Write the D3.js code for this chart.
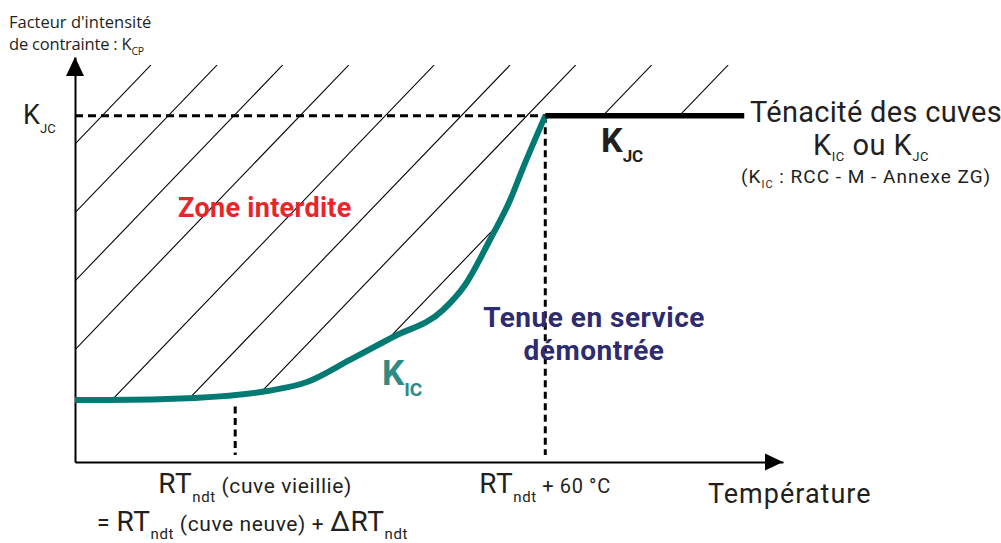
<!DOCTYPE html>
<html>
<head>
<meta charset="utf-8">
<script src="https://cdn.jsdelivr.net/npm/d3@7"></script>
<style>
body { margin: 0; background: #fff; }
text { font-family: Roboto, "Open Sans", sans-serif; }
</style>
</head>
<body>
<svg id="chart" width="1001" height="543"></svg>
<script>
// temperature in °C relative to RTndt of the aged vessel, K relative to K_JC = 100
var tempDomain = [-31, 106];
var kDomain = [0, 117];
var kJC = 100;
var rtAged = 0;
var rtPlus60 = 60;
var kjcEnd = 98.5;

// K_IC curve
var kicT = [-31, -24.4, -7.8, 6.2, 13.9, 22.2, 30.5, 40.2, 44.5, 49.3, 53.2, 55.7, 60];
var kicK = [17.9, 17.9, 18.5, 20.5, 23.1, 29.5, 36.1, 43.9, 51.2, 64.2, 75.7, 85, 100];

// hatching of the forbidden zone: temperature where each line leaves the top
var hatchTopK = 114.7;
var hatchTopT = [-16.3, -3.5, 9.2, 22.0, 38.5, 53.2, 65.9, 80.6, 95.4];
var hatchRunT = 73.9;   // temperature span of a hatch line from top down to K = 0

var svg = d3.select("#chart");

var x = d3.scaleLinear().domain(tempDomain).range([75, 783]);
var y = d3.scaleLinear().domain(kDomain).range([462, 57]);

var kic = kicT.map(function (t, i) { return [t, kicK[i]]; });

var line = d3.line()
  .x(function (d) { return x(d[0]); })
  .y(function (d) { return y(d[1]); })
  .curve(d3.curveMonotoneX);

// clip region = above the K_IC curve and above K_JC beyond RTndt + 60
var area = d3.area()
  .x(function (d) { return x(d[0]); })
  .y0(function (d) { return y(hatchTopK); })
  .y1(function (d) { return y(d[1]); })
  .curve(d3.curveMonotoneX);

var defs = svg.append("defs");
var clip = defs.append("clipPath").attr("id", "zone");
clip.append("path").attr("d", area(kic));
clip.append("rect")
  .attr("x", x(rtPlus60) - 1)
  .attr("y", y(hatchTopK))
  .attr("width", x(kjcEnd) - x(rtPlus60) + 1)
  .attr("height", y(kJC) - y(hatchTopK));

svg.append("g")
  .attr("clip-path", "url(#zone)")
  .selectAll("line")
  .data(hatchTopT)
  .enter().append("line")
  .attr("x1", function (d) { return x(d); })
  .attr("y1", y(hatchTopK))
  .attr("x2", function (d) { return x(d - hatchRunT); })
  .attr("y2", y(0))
  .attr("stroke", "#000")
  .attr("stroke-width", 1.1);

// axes, no ticks
svg.append("g")
  .attr("transform", "translate(0," + y(0) + ")")
  .call(d3.axisBottom(x).tickValues([]).tickSizeOuter(0));
svg.append("g")
  .attr("transform", "translate(" + x(tempDomain[0]) + ",0)")
  .call(d3.axisLeft(y).tickValues([]).tickSizeOuter(0));
svg.selectAll(".domain").attr("stroke", "#000").attr("stroke-width", 2);

svg.append("path")
  .attr("d", "M" + x(tempDomain[1]) + "," + y(0) + "l-18,-8.5v17z")
  .attr("fill", "#000");
svg.append("path")
  .attr("d", "M" + x(tempDomain[0]) + "," + y(kDomain[1]) + "l-9,19h18z")
  .attr("fill", "#000");

// reference lines
svg.append("line")
  .attr("x1", x(tempDomain[0])).attr("x2", x(rtPlus60))
  .attr("y1", y(kJC)).attr("y2", y(kJC))
  .attr("stroke", "#000").attr("stroke-width", 3)
  .attr("stroke-dasharray", "8,5");
svg.append("line")
  .attr("x1", x(rtPlus60)).attr("x2", x(rtPlus60))
  .attr("y1", y(kJC)).attr("y2", y(2))
  .attr("stroke", "#000").attr("stroke-width", 3)
  .attr("stroke-dasharray", "7,4.5");
svg.append("line")
  .attr("x1", x(rtAged)).attr("x2", x(rtAged))
  .attr("y1", y(16)).attr("y2", y(2))
  .attr("stroke", "#000").attr("stroke-width", 3)
  .attr("stroke-dasharray", "7,4.5");

svg.append("path")
  .attr("d", line(kic))
  .attr("fill", "none")
  .attr("stroke", "#007a73")
  .attr("stroke-width", 6);

svg.append("line")
  .attr("x1", x(rtPlus60)).attr("x2", x(kjcEnd))
  .attr("y1", y(kJC)).attr("y2", y(kJC))
  .attr("stroke", "#000").attr("stroke-width", 5.5);

// text with subscripts: parts = [text, size, baseline offset]
function rich(px, py, parts, opts) {
  opts = opts || {};
  var t = svg.append("text")
    .attr("x", px).attr("y", py)
    .attr("fill", opts.fill || "#231f20")
    .attr("font-weight", opts.weight || 400)
    .attr("letter-spacing", opts.ls || 0)
    .attr("text-anchor", opts.anchor || "start");
  if (opts.font) t.style("font-family", opts.font);
  var prev = 0;
  parts.forEach(function (p) {
    var off = p[2] || 0;
    t.append("tspan")
      .attr("dy", off - prev)
      .attr("font-size", p[1])
      .text(p[0]);
    prev = off;
  });
  return t;
}

var humanist = "'Open Sans', sans-serif";
rich(9, 28, [["Facteur d'intensité", 16.5]], { font: humanist });
rich(9, 50, [["de contrainte : K", 16.5], ["CP", 10.5, 5]], { font: humanist, ls: -0.2 });
rich(23, y(kJC) + 8, [["K", 27], ["JC", 13, 9]]);

rich(750, 122, [["Ténacité des cuves", 29]], { ls: 0.3 });
rich(813, 155, [["K", 29], ["IC", 13, 6], [" ou K", 29, 0], ["JC", 13, 6]], { ls: 0.5 });
rich(741, 183, [["(K", 19], ["IC", 11, 5], [" : RCC - M - Annexe ZG)", 19, 0]], { ls: 1 });
rich(601, 152, [["K", 34], ["JC", 17, 10]], { weight: 700 });

rich(178, 217, [["Zone interdite", 27]], { weight: 700, fill: "#e8252b", ls: 0.3 });
rich(382, 385, [["K", 35], ["IC", 19, 11]], { weight: 700, fill: "#2f8a84" });
rich(594, 327, [["Tenue en service", 28]], { weight: 700, fill: "#2e2c6e", anchor: "middle", ls: 0.5 });
rich(594, 360, [["démontrée", 28]], { weight: 700, fill: "#2e2c6e", anchor: "middle", ls: 0.5 });

rich(x(rtAged) - 77, 493, [["RT", 28], ["ndt", 15, 9], [" (cuve vieillie)", 21, 0]], { ls: 0.6 });
rich(97, 531, [["= ", 23], ["RT", 28], ["ndt", 15, 8], [" (cuve neuve) + ", 21, 0], ["ΔRT", 28, 0], ["ndt", 15, 8]], { ls: 0.6 });
rich(x(rtPlus60) - 66, 493, [["RT", 28], ["ndt", 15, 9], [" + 60 °C", 20, 0]], { ls: 0.6 });
rich(708, 503, [["Température", 27]], { ls: 1 });
</script>
</body>
</html>
